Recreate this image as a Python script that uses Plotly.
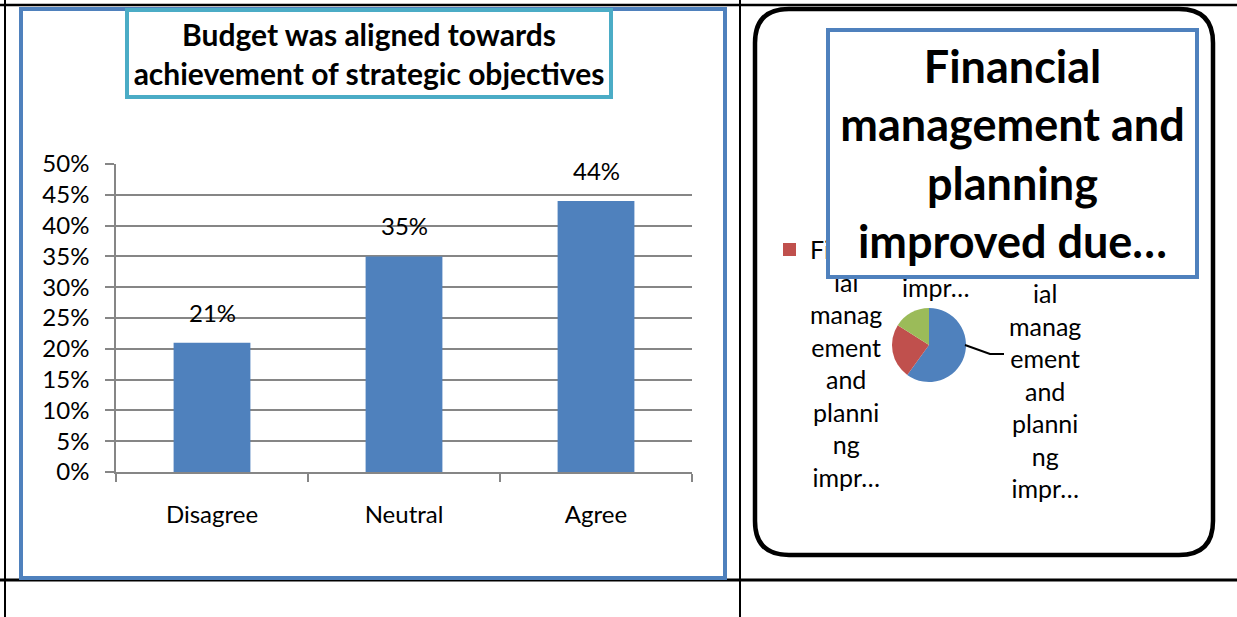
import plotly.graph_objects as go

W, H = 1237, 617

# ---- data ----
bar_categories = ["Disagree", "Neutral", "Agree"]
bar_values = [0.21, 0.35, 0.44]

pie_names = ["Agree", "Disagree", "Neutral"]
pie_values = [60, 24, 16]
pie_colors = ["#4F81BD", "#C0504D", "#9BBB59"]
slice_label_lines = ["Financ", "ial", "manag", "ement", "and", "planni", "ng", "impr…"]

left_title = "Budget was aligned towards<br>achievement of strategic objectives"
right_title = "Financial<br>management and<br>planning<br>improved due…"

FONT = "Lato"


def X(px):
    return px / W


def Y(py):
    return 1 - py / H


fig = go.Figure()

fig.add_trace(go.Bar(
    x=bar_categories, y=bar_values,
    marker=dict(color="#4F81BD", line=dict(width=0)),
    xaxis="x", yaxis="y", showlegend=False, hoverinfo="skip",
))

fig.add_trace(go.Pie(
    labels=pie_names, values=pie_values, sort=False,
    direction="clockwise", rotation=0,
    marker=dict(colors=pie_colors, line=dict(width=0)),
    textinfo="none", showlegend=False, hoverinfo="skip",
    domain=dict(x=[X(892), X(966)], y=[Y(382), Y(308)]),
))

shapes = []
# table rules
for x0, y0, x1, y1, w in [
    (0, 5, W, 5, 2.5), (5, 0, 5, H, 2), (740, 0, 740, H, 2), (0, 580, W, 580, 3),
]:
    shapes.append(dict(type="line", xref="paper", yref="paper",
                       x0=X(x0), y0=Y(y0), x1=X(x1), y1=Y(y1),
                       line=dict(color="black", width=w)))
# bar chart frame
shapes.append(dict(type="rect", xref="paper", yref="paper",
                   x0=X(21), y0=Y(578), x1=X(725), y1=Y(9),
                   line=dict(color="#4F81BD", width=4)))
# rounded pie chart frame
l, r, t, b, rad = 755, 1213, 9, 555, 34
path = (f"M {X(l + rad)},{Y(t)} L {X(r - rad)},{Y(t)} "
        f"Q {X(r)},{Y(t)} {X(r)},{Y(t + rad)} L {X(r)},{Y(b - rad)} "
        f"Q {X(r)},{Y(b)} {X(r - rad)},{Y(b)} L {X(l + rad)},{Y(b)} "
        f"Q {X(l)},{Y(b)} {X(l)},{Y(b - rad)} L {X(l)},{Y(t + rad)} "
        f"Q {X(l)},{Y(t)} {X(l + rad)},{Y(t)} Z")
shapes.append(dict(type="path", xref="paper", yref="paper", path=path,
                   line=dict(color="black", width=4.5)))
# leader line to the big slice label
shapes.append(dict(type="path", xref="paper", yref="paper",
                   path=f"M {X(965)},{Y(345)} L {X(990)},{Y(354)} L {X(1004)},{Y(354)}",
                   line=dict(color="black", width=2)))
# legend marker
shapes.append(dict(type="rect", xref="paper", yref="paper",
                   x0=X(783), y0=Y(256), x1=X(796), y1=Y(243),
                   fillcolor="#C0504D", line=dict(width=0)))

annotations = []
# value labels above bars
for c, v in zip(bar_categories, bar_values):
    annotations.append(dict(x=c, y=v, xref="x", yref="y", text=f"{round(v * 100)}%",
                            showarrow=False, yanchor="bottom", yshift=14,
                            font=dict(family=FONT, size=24, color="black")))
# pie slice labels (lines that sit under the title box are left out)
for cx, top_y, first in [(846, 249, 0), (1045, 293, 1), (935, 287, 7)]:
    annotations.append(dict(x=X(cx), y=Y(top_y - 17), xref="paper", yref="paper",
                            text="<br>".join(slice_label_lines[first:]),
                            showarrow=False, align="center",
                            xanchor="center", yanchor="top",
                            font=dict(family=FONT, size=25, color="black")))
# chart titles in framed boxes
annotations.append(dict(x=X(369.5), y=Y(53.5), xref="paper", yref="paper",
                        text=f"<b>{left_title}</b>", showarrow=False,
                        xanchor="center", yanchor="middle", align="center",
                        width=480, height=83, borderpad=0,
                        bgcolor="white", bordercolor="#4BACC6", borderwidth=4,
                        font=dict(family=FONT, size=30, color="black")))
annotations.append(dict(x=X(1012.5), y=Y(153.5), xref="paper", yref="paper",
                        text=f"<b>{right_title}</b>", showarrow=False,
                        xanchor="center", yanchor="middle", align="center",
                        width=365, height=243, borderpad=0,
                        bgcolor="white", bordercolor="#4F81BD", borderwidth=4,
                        font=dict(family=FONT, size=45, color="black")))

axis_gray = "#868686"
fig.update_layout(
    width=W, height=H, margin=dict(l=0, r=0, t=0, b=0, autoexpand=False),
    paper_bgcolor="white", plot_bgcolor="white",
    bargap=0.6,
    font=dict(family=FONT, color="black"),
    xaxis=dict(domain=[X(116), X(692)], type="category", showgrid=False,
               automargin=False,
               showline=True, linecolor=axis_gray, linewidth=1.5,
               ticks="outside", tickson="boundaries", ticklen=8,
               tickcolor=axis_gray, tickwidth=1.5, ticklabelstandoff=20,
               tickfont=dict(family=FONT, size=24, color="black")),
    yaxis=dict(domain=[Y(472), Y(164)], range=[0, 0.5], dtick=0.05,
               automargin=False,
               tickformat=".0%", showgrid=True, gridcolor=axis_gray, gridwidth=1.5,
               showline=True, linecolor=axis_gray, linewidth=1.5, zeroline=False,
               ticks="outside", ticklen=9, tickcolor=axis_gray, tickwidth=1.5,
               ticklabelstandoff=11,
               tickfont=dict(family=FONT, size=24, color="black")),
    shapes=shapes, annotations=annotations,
)

fig.write_html("out.html")
